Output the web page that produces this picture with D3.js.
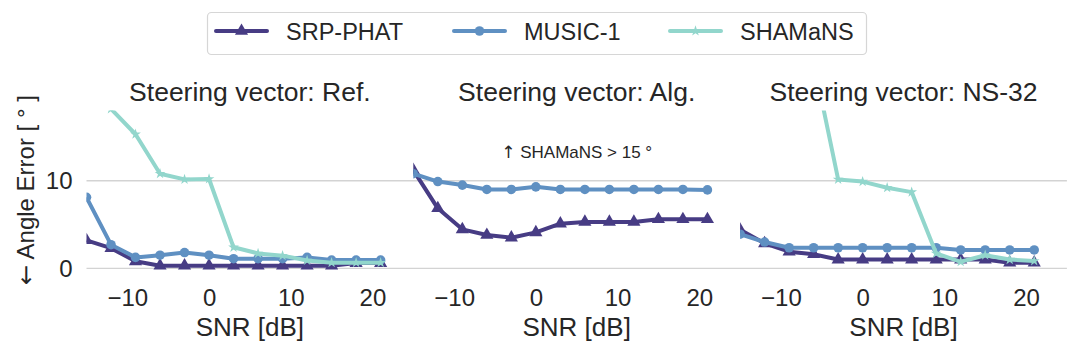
<!DOCTYPE html>
<html>
<head>
<meta charset="utf-8">
<script src="https://cdn.jsdelivr.net/npm/d3@7"></script>
<style>
  body { margin: 0; background: #fff; }
  text { font-family: "Liberation Sans", Arial, sans-serif; fill: #262626; }
  .arrow { font-family: "DejaVu Sans", sans-serif; }
</style>
</head>
<body>
<div id="container"></div>
<script>
// SNR steps shared by every panel
let snr = [-15, -12, -9, -6, -3, 0, 3, 6, 9, 12, 15, 18, 21];

// Steering vector: Ref.
let srpRef   = [3.2, 2.3, 0.8, 0.3, 0.3, 0.3, 0.3, 0.3, 0.3, 0.3, 0.3, 0.6, 0.6];
let musicRef = [8.1, 2.7, 1.25, 1.5, 1.8, 1.5, 1.1, 1.1, 1.1, 1.25, 0.95, 0.95, 0.95];
let shamRef  = [null, 18.2, 15.3, 10.8, 10.15, 10.2, 2.4, 1.7, 1.45, 0.9, 0.65, 0.65, 0.65];

// Steering vector: Alg. (SHAMaNS is above 15 everywhere, not plotted)
let srpAlg   = [11.2, 6.85, 4.45, 3.8, 3.5, 4.1, 5.1, 5.3, 5.3, 5.3, 5.6, 5.6, 5.6];
let musicAlg = [10.8, 9.9, 9.5, 9.0, 9.0, 9.3, 9.0, 9.0, 9.0, 9.0, 9.0, 9.0, 8.95];
let shamAlg  = null;

// Steering vector: NS-32
let srpNs    = [4.4, 2.85, 1.9, 1.6, 1.0, 1.0, 1.0, 1.0, 1.0, 1.0, 1.0, 0.65, 0.65];
let musicNs  = [3.9, 3.0, 2.35, 2.35, 2.35, 2.35, 2.35, 2.35, 2.35, 2.1, 2.1, 2.1, 2.1];
let shamNs   = [null, null, null, 23.6, 10.15, 9.9, 9.2, 8.7, 1.7, 0.75, 1.5, 1.0, 0.85];

let panelTitles = ["Steering vector: Ref.", "Steering vector: Alg.", "Steering vector: NS-32"];
let methods = ["SRP-PHAT", "MUSIC-1", "SHAMaNS"];
let xTicks = [-10, 0, 10, 20];
let yTicks = [0, 10];

let panels = [
    [srpRef, musicRef, shamRef],
    [srpAlg, musicAlg, shamAlg],
    [srpNs, musicNs, shamNs]
];

let colors = ["#473c84", "#5f90c2", "#92d6cc"];
let symbols = [d3.symbolTriangle, d3.symbolCircle, d3.symbolStar];
let symSizes = [75, 72, 36];

let chartW = 1079, chartH = 355;
let plotLeft = 86.5, panelW = 326.8;
let plotTop = 110.6, plotBottom = 273.6;

let svg = d3.select('#container')
            .append('svg')
            .attr("width", chartW)
            .attr("height", chartH);

let y = d3.scaleLinear().domain([-0.6, 18]).range([plotBottom, plotTop]);

// horizontal gridlines run across all three panels
svg.selectAll('line.grid')
    .data(yTicks)
    .enter()
    .append('line')
    .attr('x1', plotLeft)
    .attr('x2', plotLeft + 3 * panelW)
    .attr('y1', d => y(d))
    .attr('y2', d => y(d))
    .attr('stroke', '#d3d3d3')
    .attr('stroke-width', 1.4);

// y axis on the first panel only
let yAxis = svg.append('g')
    .attr('transform', `translate(${plotLeft},0)`)
    .call(d3.axisLeft(y).tickValues(yTicks).tickSize(0).tickPadding(14));
yAxis.select('.domain').remove();
yAxis.selectAll('text').style('font-size', '24px').attr('fill', '#262626');

let yLabel = svg.append('text')
    .attr('transform', 'translate(34,190) rotate(-90)')
    .attr('text-anchor', 'middle')
    .style('font-size', '24px');
yLabel.append('tspan').attr('class', 'arrow').text('\u2190');
yLabel.append('tspan').text(' Angle Error [ \u00b0 ]');

panels.forEach((series, i) => {
    let x0 = plotLeft + i * panelW;
    let x = d3.scaleLinear().domain([-15, 25]).range([x0, x0 + panelW]);

    let g = svg.append('g');

    g.append('clipPath')
        .attr('id', 'clip' + i)
        .append('rect')
        .attr('x', x0)
        .attr('y', plotTop)
        .attr('width', panelW)
        .attr('height', chartH - plotTop);

    let plot = g.append('g').attr('clip-path', `url(#clip${i})`);

    let line = d3.line()
        .defined(d => d[1] != null)
        .x(d => x(d[0]))
        .y(d => y(d[1]));

    series.forEach((vals, k) => {
        if (!vals) return;
        let pts = snr.map((s, j) => [s, vals[j]]);
        plot.append('path')
            .datum(pts)
            .attr('d', line)
            .attr('fill', 'none')
            .attr('stroke', colors[k])
            .attr('stroke-width', 4)
            .attr('stroke-linejoin', 'round');

        plot.selectAll('.m' + k)
            .data(pts.filter(d => d[1] != null))
            .enter()
            .append('path')
            .attr('d', d3.symbol().type(symbols[k]).size(symSizes[k]))
            .attr('transform', d => `translate(${x(d[0])},${y(d[1])})`)
            .attr('fill', colors[k]);
    });

    let xAxis = g.append('g')
        .attr('transform', `translate(0,${plotBottom})`)
        .call(d3.axisBottom(x).tickValues(xTicks).tickSize(0).tickPadding(15));
    xAxis.select('.domain').remove();
    xAxis.selectAll('text').style('font-size', '24px').attr('fill', '#262626');

    g.append('text')
        .attr('x', x0 + panelW / 2)
        .attr('y', 336)
        .attr('text-anchor', 'middle')
        .style('font-size', '26px')
        .text('SNR [dB]');

    g.append('text')
        .attr('x', x0 + panelW / 2)
        .attr('y', 101)
        .attr('text-anchor', 'middle')
        .style('font-size', '26.5px')
        .text(panelTitles[i]);
});

// note in the middle panel
let note = svg.append('text')
    .attr('x', plotLeft + panelW * 1.5)
    .attr('y', 158)
    .attr('text-anchor', 'middle')
    .style('font-size', '17px')
    .attr('fill', '#333');
note.append('tspan').attr('class', 'arrow').text('\u2191');
note.append('tspan').text(' SHAMaNS > 15 \u00b0');

// legend
let legend = svg.append('g');
legend.append('rect')
    .attr('x', 207.5)
    .attr('y', 12.5)
    .attr('width', 659)
    .attr('height', 42)
    .attr('rx', 4)
    .attr('fill', '#fff')
    .attr('stroke', '#d6d6d6')
    .attr('stroke-width', 1.2);

let legX = [216, 454, 670];
methods.forEach((m, k) => {
    legend.append('line')
        .attr('x1', legX[k])
        .attr('x2', legX[k] + 51)
        .attr('y1', 31)
        .attr('y2', 31)
        .attr('stroke', colors[k])
        .attr('stroke-width', 4)
        .attr('stroke-linecap', 'round');
    legend.append('path')
        .attr('d', d3.symbol().type(symbols[k]).size(symSizes[k]))
        .attr('transform', `translate(${legX[k] + 25.5},31)`)
        .attr('fill', colors[k]);
    legend.append('text')
        .attr('x', legX[k] + 70)
        .attr('y', 39.5)
        .style('font-size', '23.5px')
        .text(m);
});
</script>
</body>
</html>
